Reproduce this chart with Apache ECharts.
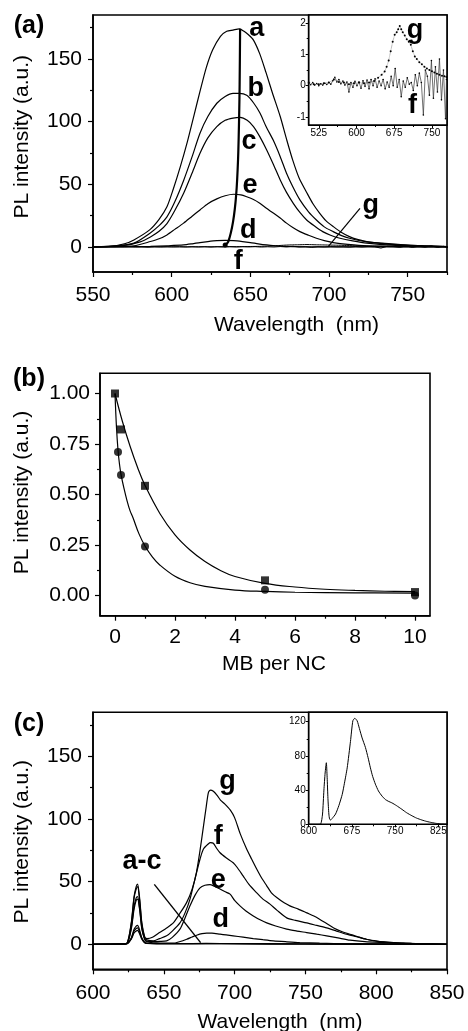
<!DOCTYPE html>
<html>
<head>
<meta charset="utf-8">
<script src="https://cdn.jsdelivr.net/npm/echarts@6/dist/echarts.min.js"></script>
<style>
  html, body { margin: 0; padding: 0; background: #fff; }
  #chart { width: 468px; height: 1031px; }
</style>
</head>
<body>
<div id="chart"></div>
<script>
// ---------- (a) PL spectra of NCs with increasing MB loading ----------
const specA_a = [[550,0],[560,0.3],[570,2.5],[576,5.6],[586,13.6],[592,22],[597,32],[601,46],[605.5,64],[610,84],[614,104],[618,124],[622,143],[626,157],[631,168],[635,172],[639,173],[643,174],[646,172],[649,169],[652,165],[656,154],[660,139],[664,123],[669,104],[673,86],[677,69],[681,55],[686,43],[690,34],[694,27],[698,21],[703,16],[708,11.5],[713,8.2],[718,6],[724,4.2],[734,2.6],[745,1.6],[760,0.8],[775,0.3]];
const specA_b = [[550,0],[565,0.8],[576,3],[586,10.8],[592,17],[597,24],[602,36],[607.6,53],[613,72],[618,90.7],[623,104],[628.7,114.6],[634,120],[639,122.5],[643,122.5],[647.7,121],[652,115],[656.2,106.6],[660,96],[664.6,85],[669,72],[673,58.8],[677,48],[681.5,37.5],[687,28],[692,21.5],[697,16],[702.6,12.2],[708,9],[713,6.9],[724,4],[734,3],[750,1.5],[775,0.3]];
const specA_c = [[550,0],[570,1.2],[580,4],[586.5,8],[592,12.5],[597,18.6],[602,29],[607.6,42.8],[613,59],[618,74.7],[623,87],[628.7,96],[634,101],[639,102.8],[643.5,103.4],[648,101],[652,96],[656,88],[660.4,77.4],[664.6,66],[669,53.4],[673,43.5],[677.3,34.8],[681.5,27.5],[685.8,21.5],[691,16.5],[696,12.2],[701,9.3],[707,6.9],[715,4.8],[724,3],[740,1.5],[775,0.3]];
const specA_d = [[550,0],[575,0.2],[586.5,0.4],[597,0.9],[607.6,1.6],[613,2.5],[618,3.5],[623,4.3],[628.7,5],[634,5.2],[639.3,5],[645,4.3],[650,3.5],[655,2.5],[660.4,1.6],[666,0.9],[671,0.4],[685,0.1],[700,0],[775,0]];
const specA_e = [[550,0],[565,0.3],[576,0.8],[586.5,4.3],[592,6.5],[597,9.6],[602,14],[607.6,19],[613,24.5],[618,29.5],[623,34.5],[628.7,38.3],[634,40.8],[639.3,42],[644,41.5],[647.7,40],[652,37.8],[656,34.8],[660,31],[664.6,27],[669,23],[673,19],[677,15.5],[681.5,12.2],[687,9.3],[692,6.9],[697,5],[702.6,3.5],[712,2],[724,0.8],[750,0.2],[775,0]];
// f and g are tiny; the inset shows them magnified
const specA_f = [[505,0.08],[509,0.03],[513,0.1],[517,0.02],[521,0.07],[525,0.0],[529,0.06],[533,0.02],[537,0.08],[541,0.04],[545,0.1],[549,0.05],[553,0.16],[557,0.27],[561,0.12],[565,0.2],[569,0.06],[573,0.15],[577,0.02],[581,0.12],[585,-0.2],[589,0.1],[593,-0.05],[597,0.14],[601,0.0],[605,0.12],[609,-0.08],[613,0.16],[617,-0.02],[621,0.18],[625,-0.1],[629,0.2],[633,0.0],[637,0.22],[641,-0.05],[645,0.15],[649,0.0],[653,0.2],[657,-0.1],[661,0.12],[665,-0.05],[669,0.3],[673,0.0],[677,0.55],[681,-0.05],[685,0.2],[689,-0.35],[693,0.15],[697,-0.05],[701,0.25],[705,0.05],[709,0.1],[713,-0.15],[717,0.35],[721,0.0],[725,0.4],[729,0.1],[733,-0.93],[737,0.5],[741,0.3],[745,-0.3],[749,0.8],[753,-0.4],[757,0.6],[761,-0.2],[765,0.85],[769,-0.45],[773,0.5],[777,-1.05],[779,0.2]];
const specA_g = [[505,0.1],[515,0.05],[525,0.05],[535,0.08],[545,0.1],[555,0.2],[565,0.12],[575,0.1],[585,0.05],[595,0.08],[605,0.1],[615,0.08],[625,0.1],[635,0.15],[643,0.25],[650,0.35],[656,0.45],[660,0.6],[664,0.8],[668,1.1],[672,1.4],[676,1.62],[680,1.7],[683,1.8],[686,1.9],[689,1.8],[692,1.7],[696,1.6],[700,1.48],[704,1.4],[708,1.3],[712,1.1],[716,0.93],[720,0.85],[725,0.75],[730,0.68],[735,0.6],[740,0.55],[745,0.5],[750,0.46],[755,0.42],[760,0.38],[765,0.35],[770,0.32],[775,0.3],[779,0.28]];
// peak-position trace running through the maxima of d, e, c, b, a
const peakTraceA = [[634,1.6],[636,4.2],[639,20],[641,41.5],[642.2,70],[642.9,105],[643.2,130],[643.5,174]];
const pointerA_g = [[719.7,30.8],[699.5,0.3]];

const ticksA_x = [550,600,650,700,750];
const minorA_x = [575,625,675,725,775];
const ticksA_y = [0,50,100,150];
const minorA_y = [25,75,125,175];
const ticksAin_x = [525,600,675,750];
const minorAin_x = [562.5,637.5,712.5];
const ticksAin_y = [-1,0,1,2];
const minorAin_y = [-0.5,0.5,1.5];

// ---------- (b) normalised PL vs MB per NC ----------
const squaresB = [[0,1.0],[0.2,0.822],[1,0.543],[5,0.075],[10,0.017]];
const circlesB = [[0.1,0.71],[0.2,0.596],[1,0.243],[5,0.028],[10,0.0]];
const squareFitB = [[0,1.0],[0.25,0.86],[0.5,0.74],[0.75,0.635],[1,0.545],[1.5,0.405],[2,0.3],[2.5,0.225],[3,0.168],[3.5,0.125],[4,0.094],[5,0.06],[6,0.042],[7,0.031],[8,0.025],[9,0.021],[10,0.019]];
const circleFitB = [[0,1.0],[0.05,0.83],[0.1,0.72],[0.15,0.65],[0.2,0.6],[0.3,0.53],[0.4,0.47],[0.5,0.42],[0.6,0.385],[0.8,0.305],[1,0.245],[1.25,0.19],[1.5,0.15],[2,0.095],[2.5,0.063],[3,0.045],[4,0.027],[5,0.02],[6,0.016],[8,0.013],[10,0.012]];
const ticksB_x = [0,2,4,6,8,10];
const minorB_x = [1,3,5,7,9];
const ticksB_y = [0,0.25,0.5,0.75,1.0];
const minorB_y = [0.125,0.375,0.625,0.875];

// ---------- (c) sensitised MB emission ----------
const specC_a = [[600,0],[620,0.1],[624,0.4],[627,4],[629,9],[630.5,10.5],[631.5,11],[633,8],[634.5,4],[636.5,1.2],[638,0.7],[645,0.4],[660,0.4],[680,0.5],[700,0.4],[750,0.2],[800,0.1],[850,0]];
const specC_b = [[600,0],[620,0.1],[624,0.4],[627,4.5],[629,10.5],[630.5,12.5],[631.5,13],[633,9.5],[634.5,4.5],[636.5,1.3],[638,0.8],[645,0.5],[660,0.5],[680,0.6],[700,0.5],[750,0.2],[800,0.1],[850,0]];
const specC_c = [[600,0],[620,0.1],[624,0.5],[627,5],[629,12],[630.5,14.5],[631.5,15],[633,11],[634.5,5],[636.5,1.5],[638,0.8],[645,0.5],[660,0.4],[680,0.5],[700,0.4],[750,0.2],[800,0.1],[850,0]];
const specC_d = [[600,0],[620,0.2],[624,0.7],[627,12],[629,28],[630.5,35],[631.5,36],[633,27],[634.5,12],[636.5,4],[638,2],[645,1],[652,0.8],[656.7,0.8],[661,2],[666.2,4],[670,5.8],[673.2,7.2],[677,8.4],[680.3,8.8],[684,8.8],[689.7,8],[694,7.4],[699,6.7],[706,5.6],[713.2,4.5],[720,3.6],[727.4,2.7],[736,2],[746,1.3],[760,0.8],[780,0.4],[800,0.2],[850,0]];
const specC_e = [[600,0],[620,0.2],[624,0.7],[627,13],[629,30],[630.5,37],[631.5,38],[633,28],[634.5,13],[636.5,4],[638,2.5],[642,2],[647,2.2],[652,2.7],[656,5.5],[661.4,12],[665,21],[668.5,30.6],[672,39],[675.6,45],[679,47],[682.6,47.6],[686,46],[689.7,44],[693,42],[696.8,40],[700,35],[703.8,30.6],[708,26.5],[713.2,22.6],[718,19.5],[722.7,17],[729,14.5],[736.8,12],[744,10.5],[750.9,9.3],[758,8],[765,6.7],[773,5],[781.5,3.2],[792,2],[805,1.3],[820,0.6],[850,0]];
const specC_f = [[600,0],[620,0.2],[624,0.8],[627,16],[629,37],[630.5,44],[631.5,46],[633,34],[634.5,16],[636.5,5],[638,3.5],[642.6,2.7],[647,4.5],[652,6.7],[656,10.5],[661.4,17],[665,25],[668.5,36],[672,52],[675.6,68],[678,76],[681.4,80],[683,81],[685,80.6],[687,77],[689.7,73],[694,69],[699,65],[702,61],[706,54.5],[710,48],[715.6,41],[720,36],[725,32],[730,27],[736.8,21],[743,19],[751,17],[758,15],[765,13],[772,10.5],[779,8],[786,6],[793,4],[800,2.5],[812,1.3],[825,0.6],[850,0]];
const specC_g = [[600,0],[620,0.2],[624,0.8],[627,17],[629,38],[630.5,46],[631.5,48],[633,36],[634.5,17],[636.5,6],[638,4.5],[642,5.5],[647,9.3],[652,13],[656.7,17],[661,24],[666,33],[670,44],[673,57],[676,78],[678,94],[680,110],[681.5,121],[683,123],[685,122],[687.5,119],[690,115],[693,112],[697,107],[700,101],[704,88],[708.5,76],[712,68],[715.6,60],[719,53],[722.7,46.6],[726,41],[730,37],[735,33],[739,30.6],[745,28],[751,25],[756,22.5],[760,20],[765,16.5],[770,13],[776,10],[781.5,8],[787,6],[793,4],[799,2.8],[805,1.8],[815,1],[828,0.5],[850,0]];
const pointerC_ac = [[643.3,47.7],[676,1.3]];
// inset: reference MB spectrum
const specCin = [[600,0],[615,0],[620.7,0.3],[624,12],[626.4,40],[628.5,60],[630.6,72],[632,55],[633.4,30],[635,12],[636.3,6],[638,5],[640.9,7],[646.6,12],[652.4,22],[658.2,35],[662,48],[666.8,66],[672.5,97],[676.6,121],[680,124],[684.1,121],[688,112],[692.7,101],[698.4,90],[703,78],[707.1,66],[711,56],[715.7,47],[721,39],[727.3,33],[733,29],[738,27],[744.6,25],[752,22],[761.8,17.5],[770,13.5],[779.1,10],[787,7.3],[796.4,5],[805,3.3],[813.6,2],[822,1],[830.9,0.4],[840,0.2]];

const ticksC_x = [600,650,700,750,800,850];
const minorC_x = [625,675,725,775,825];
const ticksC_y = [0,50,100,150];
const minorC_y = [25,75,125,175];
const ticksCin_x = [600,675,750,825];
const minorCin_x = [637.5,712.5,787.5];
const ticksCin_y = [0,40,80,120];
const minorCin_y = [20,60,100];

// ---------- layout helpers ----------
const FONT = '"Liberation Sans", Arial, Helvetica, sans-serif';
const BLACK = '#000';

function axisPair(dim, gridIndex, min, max, ticks, minors, o) {
  const major = {
    type: 'value', gridIndex, min, max,
    position: dim === 'x' ? 'bottom' : 'left',
    axisLine: { show: true, onZero: false, lineStyle: { color: BLACK, width: o.lw } },
    axisTick: { show: true, inside: false, length: o.tick, customValues: ticks,
                lineStyle: { color: BLACK, width: o.tw } },
    axisLabel: { show: true, customValues: ticks, margin: o.margin, fontSize: o.fs,
                 color: BLACK, fontFamily: FONT, formatter: o.fmt },
    splitLine: { show: false }
  };
  const minor = {
    type: 'value', gridIndex, min, max,
    position: dim === 'x' ? 'bottom' : 'left',
    axisLine: { show: false, onZero: false },
    axisTick: { show: true, inside: false, length: o.minorTick, customValues: minors,
                lineStyle: { color: BLACK, width: o.tw } },
    axisLabel: { show: false },
    splitLine: { show: false }
  };
  return [major, minor];
}

const mainX = { lw: 1.5, tw: 1.2, tick: 5, minorTick: 3, margin: 13, fs: 21 };
const mainY = { lw: 1.5, tw: 1.2, tick: 5, minorTick: 3, margin: 11, fs: 21 };
const insX = { lw: 1.2, tw: 1, tick: 3, minorTick: 2, margin: 3, fs: 10 };
const insY = { lw: 1.2, tw: 1, tick: 3, minorTick: 2, margin: 3, fs: 10 };

const grids = [
  { left: 93, top: 15, width: 354, height: 257 },            // (a)
  { left: 100, top: 373.3, width: 330, height: 242.4 },      // (b)
  { left: 93, top: 712.3, width: 354, height: 257 },         // (c)
  { left: 308.7, top: 15, width: 138.3, height: 110, backgroundColor: '#fff' },   // (a) inset
  { left: 308.7, top: 712.3, width: 138.3, height: 112, backgroundColor: '#fff' } // (c) inset
].map(g => Object.assign({ show: true, borderColor: BLACK, borderWidth: 1.6, containLabel: false }, g));

const xAxes = [].concat(
  axisPair('x', 0, 550, 775, ticksA_x, minorA_x, mainX),
  axisPair('x', 1, -0.5, 10.5, ticksB_x, minorB_x, Object.assign({}, mainX, { margin: 11 })),
  axisPair('x', 2, 600, 850, ticksC_x, minorC_x, mainX),
  axisPair('x', 3, 505, 780, ticksAin_x, minorAin_x, insX),
  axisPair('x', 4, 600, 840, ticksCin_x, minorCin_x, Object.assign({}, insX, { margin: 2 }))
);
const yAxes = [].concat(
  axisPair('y', 0, -20, 185, ticksA_y, minorA_y, mainY),
  axisPair('y', 1, -0.1, 1.1, ticksB_y, minorB_y, Object.assign({}, mainY, { margin: 10, fmt: v => v.toFixed(2) })),
  axisPair('y', 2, -20, 185, ticksC_y, minorC_y, mainY),
  axisPair('y', 3, -1.25, 2.25, ticksAin_y, minorAin_y, insY),
  axisPair('y', 4, 0, 131, ticksCin_y, minorCin_y, insY)
);

// axis indices: major axis of grid g is 2*g
function curve(g, data, extra) {
  return Object.assign({
    type: 'line', xAxisIndex: 2 * g, yAxisIndex: 2 * g, data,
    symbol: 'none', smooth: 0.25, silent: true,
    lineStyle: { color: BLACK, width: 1.2 }, z: 3
  }, extra || {});
}

const series = [
  // (a)
  curve(0, specA_a), curve(0, specA_b), curve(0, specA_c), curve(0, specA_d), curve(0, specA_e),
  curve(0, specA_f, { smooth: false, lineStyle: { color: BLACK, width: 1 } }),
  curve(0, specA_g, { lineStyle: { color: BLACK, width: 1 } }),
  curve(0, peakTraceA.map((p, i) => i === 0 ? { value: p, symbol: 'circle', symbolSize: 5 } : p),
        { smooth: 0.3, showSymbol: true, symbol: 'none', itemStyle: { color: BLACK }, lineStyle: { color: BLACK, width: 2.2 } }),
  curve(0, pointerA_g, { smooth: false, lineStyle: { color: BLACK, width: 1.2 } }),
  // (a) inset
  curve(3, specA_f, { smooth: false, symbol: 'circle', symbolSize: 1.6, showSymbol: true,
                      itemStyle: { color: BLACK }, lineStyle: { color: '#333', width: 0.7 } }),
  curve(3, specA_g, { smooth: false, symbol: 'circle', symbolSize: 2, showSymbol: true,
                      itemStyle: { color: BLACK }, lineStyle: { color: '#444', width: 0.6, type: 'dotted' } }),
  // (b)
  curve(1, squareFitB, { smooth: 0.4 }),
  curve(1, circleFitB, { smooth: 0.4 }),
  { type: 'scatter', xAxisIndex: 2, yAxisIndex: 2, data: squaresB, symbol: 'rect', symbolSize: 8,
    itemStyle: { color: BLACK }, z: 4, silent: true },
  { type: 'scatter', xAxisIndex: 2, yAxisIndex: 2, data: circlesB, symbol: 'circle', symbolSize: 8,
    itemStyle: { color: BLACK }, z: 4, silent: true },
  // (c)
  curve(2, specC_a), curve(2, specC_b), curve(2, specC_c), curve(2, specC_d),
  curve(2, specC_e), curve(2, specC_f), curve(2, specC_g),
  curve(2, pointerC_ac, { smooth: false, lineStyle: { color: BLACK, width: 1.4 } }),
  // (c) inset
  curve(4, specCin, { smooth: 0.2, lineStyle: { color: BLACK, width: 1 } })
];

function txt(t, x, y, size, extra) {
  return Object.assign({
    type: 'text', silent: true, z: 10,
    style: Object.assign({ text: t, x, y, fill: BLACK, align: 'center', verticalAlign: 'middle',
      font: size }, extra || {})
  });
}
const bold = s => 'bold ' + s + 'px ' + FONT;
const reg = s => s + 'px ' + FONT;
function vtxt(t, x, y) {
  return { type: 'text', silent: true, z: 10, x, y, rotation: Math.PI / 2,
    style: { text: t, x: 0, y: 0, fill: BLACK, align: 'center', verticalAlign: 'middle', font: reg(21) } };
}

const graphic = [
  // panel tags
  txt('(a)', 29, 26, bold(25)), txt('(b)', 29, 379, bold(25)), txt('(c)', 29, 724, bold(25)),
  // (a) curve labels
  txt('a', 256.7, 29, bold(27)), txt('b', 255.8, 89, bold(27)), txt('c', 249, 142, bold(27)),
  txt('e', 250, 185.5, bold(27)), txt('d', 248.3, 230.5, bold(27)), txt('f', 238.3, 262, bold(27)),
  txt('g', 370.8, 205.5, bold(27)),
  txt('g', 415, 31, bold(27)), txt('f', 412.5, 106, bold(27)),
  // (c) curve labels
  txt('g', 227.5, 781.5, bold(27)), txt('f', 218.3, 837, bold(27)), txt('e', 218.3, 880.5, bold(27)),
  txt('d', 220.8, 920, bold(27)), txt('a-c', 142, 862, bold(27)),
  // axis titles
  txt('Wavelength  (nm)', 296.5, 325.6, reg(21)),
  txt('MB per NC', 274, 664, reg(21)),
  txt('Wavelength  (nm)', 280, 1022.6, reg(21)),
  vtxt('PL intensity (a.u.)', 22.6, 136.7),
  vtxt('PL intensity (a.u.)', 22.6, 492.5),
  vtxt('PL intensity (a.u.)', 22.6, 841.7)
];

const chart = echarts.init(document.getElementById('chart'), null, { renderer: 'canvas' });
chart.setOption({
  animation: false,
  backgroundColor: '#fff',
  grid: grids,
  xAxis: xAxes,
  yAxis: yAxes,
  series,
  graphic
});
</script>
</body>
</html>
